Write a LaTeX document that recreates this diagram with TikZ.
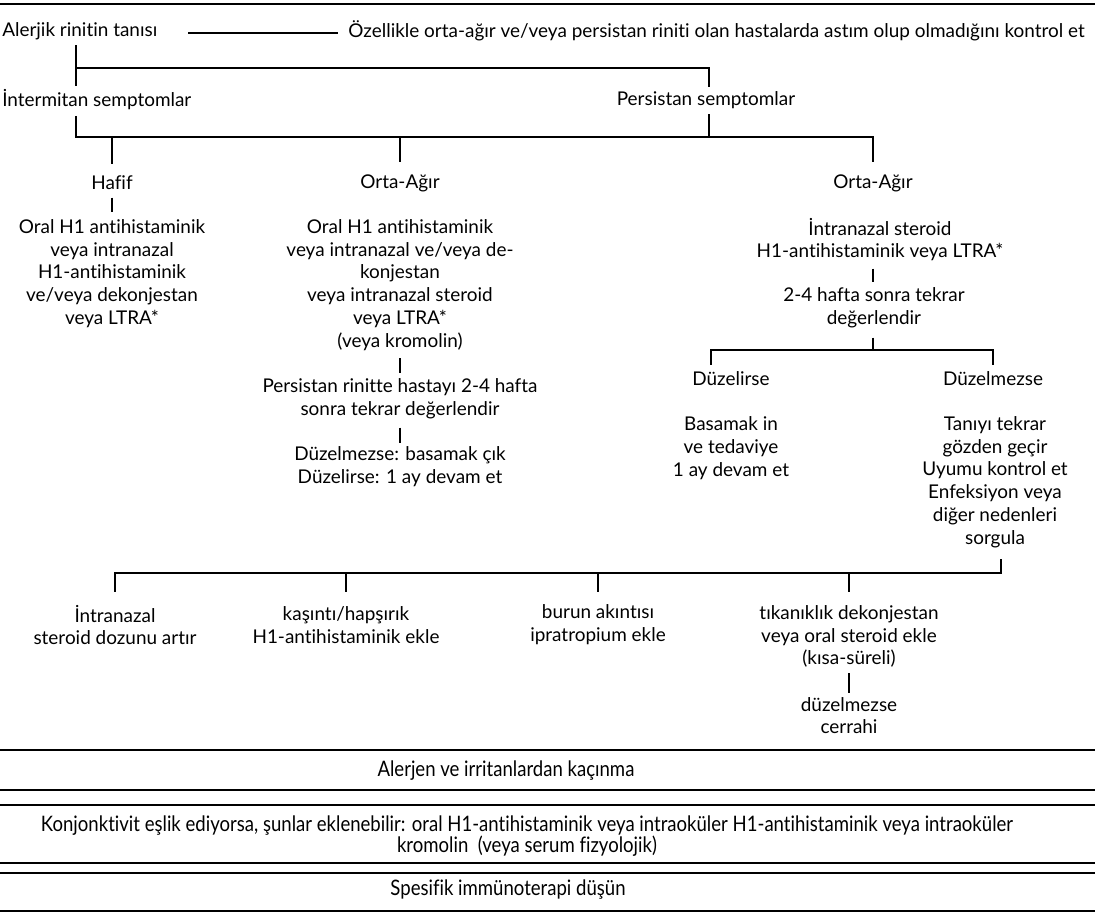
\documentclass[tikz,border=0pt]{standalone}
\usepackage{fontspec}
\setmainfont{Lato}[Ligatures=NoCommon]
\newfontfamily\narrowfont{Lato}[FakeStretch=0.87,Ligatures=NoCommon]
\usetikzlibrary{positioning}

\begin{document}
\begin{tikzpicture}[x=0.75pt,y=-0.75pt,
  txt/.style={inner sep=0pt, align=center, font=\fontsize{14.2}{17.1}\selectfont},
  band/.style={inner sep=0pt, align=center, font=\narrowfont\fontsize{16}{15}\selectfont},
  link/.style={line width=1.5pt},
  rule/.style={line width=2.2pt}]
\useasboundingbox (0,0) rectangle (1095,914);
\draw[line width=1.2pt] (0,4) -- (1095,4);

% top row
\node[txt, anchor=west] (diag) at (2,31) {Alerjik rinitin tanısı};
\node[txt, anchor=east] (asthma) at (1085,31) {Özellikle orta-ağır ve/veya persistan riniti olan hastalarda astım olup olmadığını kontrol et};
\draw[link] ([xshift=23pt,yshift=-1.5pt]diag.east) -- ([xshift=-8pt,yshift=-1.5pt]asthma.west);

\node[txt, anchor=west] (inter) at (2,100) {İntermitan semptomlar};
\node[txt] (persist) at (706,100) {Persistan semptomlar};

% severity
\node[txt] (mild) at (112,183) {Hafif};
\node[txt] (modA) at (400,183) {Orta-Ağır};
\node[txt] (modB) at (873,183) {Orta-Ağır};

\node[txt] (mildrx) at (112,273.5) {Oral H1 antihistaminik\\veya intranazal\\H1-antihistaminik\\ve/veya dekonjestan\\veya LTRA*};
\node[txt] (modArx) at (400,285) {Oral H1 antihistaminik\\veya intranazal ve/veya de-\\konjestan\\veya intranazal steroid\\veya LTRA*\\(veya kromolin)};
\node[txt] (modAre) at (400,398.5) {Persistan rinitte hastayı 2-4 hafta\\sonra tekrar değerlendir};
\node[txt] (modAout) at (400,467) {Düzelmezse: basamak çık\\Düzelirse: 1 ay devam et};

\node[txt] (modBrx) at (880,239.5) {İntranazal steroid\\H1-antihistaminik veya LTRA*};
\node[txt] (modBre) at (874,308) {2-4 hafta sonra tekrar\\değerlendir};
\node[txt] (better) at (731,379) {Düzelirse};
\node[txt] (worse) at (993,379) {Düzelmezse};
\node[txt] (betterrx) at (731,448) {Basamak in\\ve tedaviye\\1 ay devam et};
\node[txt] (worserx) at (995,482) {Tanıyı tekrar\\gözden geçir\\Uyumu kontrol et\\Enfeksiyon veya\\diğer nedenleri\\sorgula};

% add-on steps
\node[txt] (stepA) at (115,625) {İntranazal\\steroid dozunu artır};
\node[txt] (stepB) at (346,625) {kaşıntı/hapşırık\\H1-antihistaminik ekle};
\node[txt] (stepC) at (598,625) {burun akıntısı\\ipratropium ekle};
\node[txt] (stepD) at (849,636.5) {tıkanıklık dekonjestan\\veya oral steroid ekle\\(kısa-süreli)};
\node[txt] (surgery) at (849,715.5) {düzelmezse\\cerrahi};

% bus lines
\coordinate (busA) at (76,68);
\coordinate (busB) at (76,137);
\coordinate (busC) at (711,350);
\coordinate (busD) at (1001,573);
\coordinate (pdrop) at (709,68);

\draw[link] ([yshift=-4pt]diag.south -| busA) -- ([yshift=3pt]busA |- inter.north);
\draw[link] (busA) -- (pdrop) -- ([yshift=3pt]pdrop |- persist.north);
\draw[link] ([yshift=-4pt]busA |- inter.south) -- (busB) -| ([yshift=9pt]modB.north);
\draw[link] ([yshift=-4pt]pdrop |- persist.south) -- (pdrop |- busB);
\foreach \n in {mild,modA}
  \draw[link] (\n.north |- busB) -- ([yshift=9pt]\n.north);

\draw[link] ([yshift=-5.5pt]mild.south) -- ([yshift=5.5pt]mildrx.north);
\draw[link] ([yshift=-5.5pt]modArx.south) -- ([yshift=4pt]modAre.north);
\draw[link] ([yshift=-6.5pt]modAre.south) -- ([yshift=2.5pt]modAout.north);

\draw[link] ([yshift=-5.5pt]modBrx.south -| modB) -- ([yshift=4pt]modB |- modBre.north);
\draw[link] ([yshift=-7pt]modBre.south -| modB) -- (modB |- busC);
\draw[link] ([yshift=-11pt]busC) -- (busC) -- (busC -| worse.north) -- ([yshift=-11pt]busC -| worse.north);

\draw[link] ([yshift=-8.5pt]busD |- worserx.south) -- (busD) -- (busD -| stepA.north) -- ([yshift=-14pt]busD -| stepA.north);
\foreach \n in {stepB,stepC,stepD}
  \draw[link] (busD -| \n.north) -- ([yshift=-14pt]busD -| \n.north);
\draw[link] ([yshift=-4pt]stepD.south) -- ([yshift=3pt]surgery.north);

% bands
\foreach \y in {750,790,805,863,873,911}
  \draw[rule] (0,\y) -- (1095,\y);
\node[band] (avoid) at (506,771) {Alerjen ve irritanlardan kaçınma};
\node[band] (conj) at (527,836) {Konjonktivit eşlik ediyorsa, şunlar eklenebilir: oral H1-antihistaminik veya intraoküler H1-antihistaminik veya intraoküler\\kromolin\ \ (veya serum fizyolojik)};
\node[band] (immuno) at (508,890) {Spesifik immünoterapi düşün};
\end{tikzpicture}
\end{document}
